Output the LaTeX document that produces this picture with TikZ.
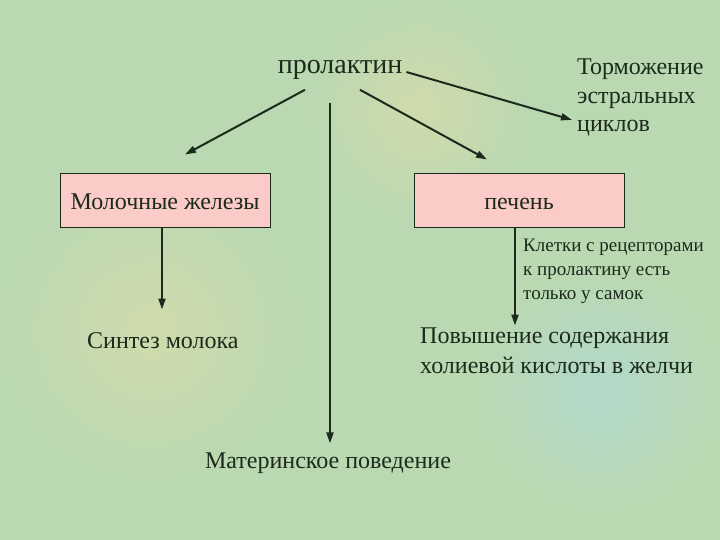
\documentclass[tikz,border=0pt]{standalone}
\usepackage{fontspec}
\setmainfont{Liberation Serif}
\usetikzlibrary{arrows.meta,positioning}
\definecolor{bggreen}{HTML}{BAD8B2}
\definecolor{bgyellow}{HTML}{D0DBAC}
\definecolor{bgblue}{HTML}{B2D8CA}
\definecolor{boxpink}{HTML}{FBCBC8}
\definecolor{inkdark}{HTML}{1C2A1C}
\tikzset{
  tlabel/.style={text=inkdark,font=\fontsize{24}{29}\selectfont,inner sep=0pt},
  tnote/.style={text=inkdark,font=\fontsize{19}{24}\selectfont,inner sep=0pt,align=left},
  pbox/.style={draw=inkdark,fill=boxpink,line width=1pt,minimum width=210pt,minimum height=54pt,
    text height=20pt,text depth=2pt,text=inkdark,font=\fontsize{24}{29}\selectfont},
  parr/.style={-{Triangle[length=11pt,width=7pt]},line width=2pt,draw=inkdark}
}
\begin{document}
\begin{tikzpicture}[x=1pt,y=-1pt]
  \useasboundingbox (0,0) rectangle (720,540);
  % background
  \fill[bggreen] (0,0) rectangle (720,540);
  \shade[inner color=bgyellow,outer color=bggreen] (150,330) circle (150);
  \shade[inner color=bgblue,outer color=bggreen] (600,390) circle (120);
  \shade[inner color=bgyellow,outer color=bggreen] (420,110) circle (110);
  % nodes
  \node[tlabel,font=\fontsize{28}{32}\selectfont] (prl) at (340,70) {пролактин};
  \node[tlabel,anchor=north west,align=left,font=\fontsize{24}{28.5}\selectfont] (torm) at (577,59) {Торможение\\эстральных\\циклов};
  \node[pbox] (mol) at (165,201) {Молочные железы};
  \node[pbox] (pech) at (519,201) {печень};
  \node[tnote,anchor=north west] (klet) at (523,239) {Клетки с рецепторами\\к пролактину есть\\только у самок};
  \node[tlabel,anchor=west] (sint) at (87,341) {Синтез молока};
  \node[tlabel,anchor=north west,align=left,font=\fontsize{24}{30}\selectfont] (povy) at (420,328) {Повышение содержания\\холиевой кислоты в желчи};
  \node[tlabel] (mat) at (328,463) {Материнское поведение};
  % arrows
  \draw[parr] ([xshift=-35pt,yshift=-10pt]prl.south) -- ([xshift=20pt,yshift=19pt]mol.north);
  \draw[parr] ([xshift=20pt,yshift=-10pt]prl.south) -- ([xshift=-32pt,yshift=14pt]pech.north);
  \draw[parr] ([xshift=4pt,yshift=-2pt]prl.east) -- ([xshift=-5pt,yshift=-22pt]torm.west);
  \draw[parr] ([xshift=-10pt,yshift=-23pt]prl.south) -- ([xshift=2pt,yshift=9pt]mat.north);
  \draw[parr] ([xshift=-3pt]mol.south) -- ([xshift=-3pt,yshift=-81pt]mol.south);
  \draw[parr] ([xshift=-4pt]pech.south) -- ([xshift=-4pt,yshift=-97pt]pech.south);
\end{tikzpicture}
\end{document}
